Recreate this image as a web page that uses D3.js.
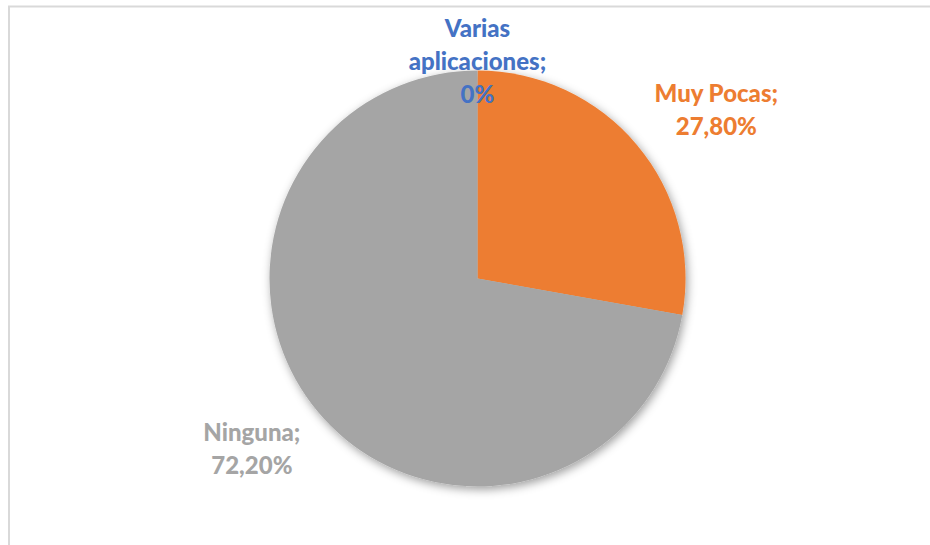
<!DOCTYPE html>
<html>
<head>
<meta charset="utf-8">
<script src="https://cdn.jsdelivr.net/npm/d3@7/dist/d3.min.js"></script>
<style>
  html, body { margin: 0; padding: 0; background: #ffffff; }
  svg { display: block; }
</style>
</head>
<body>
<svg id="chart" width="930" height="545"></svg>
<script>
// Categories and shares (%) of the pie
const categories = ["Varias aplicaciones", "Muy Pocas", "Ninguna"];
const values = [0, 27.8, 72.2];
const colors = ["#4472C4", "#ED7D31", "#A5A5A5"];

const W = 930, H = 545;
const cx = 477.5, cy = 278.5, radius = 208;
const labelRadius = 231;
const lineH = 33;
const baselineOffset = 26;
const fontSize = 24;
const wrapWidth = 130;
const areaTop = 11;

const svg = d3.select("#chart");

// chart area frame
svg.append("rect")
  .attr("x", 9).attr("y", 6.5)
  .attr("width", W).attr("height", H)
  .attr("fill", "#ffffff")
  .attr("stroke", "#d9d9d9")
  .attr("stroke-width", 2);

// soft outer shadow under the pie
const defs = svg.append("defs");
const f = defs.append("filter").attr("id", "pieShadow")
  .attr("x", "-20%").attr("y", "-20%").attr("width", "140%").attr("height", "140%");
f.append("feDropShadow")
  .attr("dx", 2).attr("dy", 3)
  .attr("stdDeviation", 5)
  .attr("flood-color", "#000000")
  .attr("flood-opacity", 0.38);

const data = categories.map((c, i) => ({ category: c, value: values[i], color: colors[i] }));

const pie = d3.pie().sort(null).value(d => d.value);
const arcs = pie(data);
const arc = d3.arc().innerRadius(0).outerRadius(radius);

const g = svg.append("g").attr("transform", `translate(${cx},${cy})`);

g.append("g").attr("filter", "url(#pieShadow)")
  .selectAll("path")
  .data(arcs)
  .join("path")
  .attr("d", arc)
  .attr("fill", d => d.data.color);

function fmt(v) {
  if (v === 0) return "0%";
  return v.toFixed(2).replace(".", ",") + "%";
}

// labels: "Category; value", wrapped and placed outside the slice
const labels = svg.append("g")
  .attr("font-family", "Lato, 'Open Sans', sans-serif")
  .attr("font-weight", 900)
  .attr("font-size", fontSize)
  .attr("text-anchor", "middle");

arcs.forEach(a => {
  const t = labels.append("text").attr("fill", a.data.color);
  // wrap category name
  const words = (a.data.category + ";").split(" ");
  const lines = [];
  let cur = "";
  const probe = t.append("tspan");
  words.forEach(w => {
    const test = cur ? cur + " " + w : w;
    probe.text(test);
    if (cur && probe.node().getComputedTextLength() > wrapWidth) {
      lines.push(cur);
      cur = w;
    } else {
      cur = test;
    }
  });
  lines.push(cur);
  lines.push(fmt(a.data.value));
  probe.remove();

  const tspans = lines.map(l => t.append("tspan").attr("x", 0).text(l));
  const w = d3.max(tspans, s => s.node().getComputedTextLength());
  const h = lines.length * lineH;

  const mid = (a.startAngle + a.endAngle) / 2;
  const sx = Math.sin(mid), sy = -Math.cos(mid);
  const px = cx + sx * labelRadius;
  const py = cy + sy * labelRadius;
  const sgn = Math.abs(sx) < 1e-6 ? 0 : Math.sign(sx);
  const bx = px + sgn * w / 2;
  let top = py + sy * h / 2 - h / 2;
  top = Math.max(areaTop, Math.min(H - h, top));

  tspans.forEach((s, i) => {
    s.attr("x", bx).attr("y", top + baselineOffset + i * lineH);
  });
});
</script>
</body>
</html>
